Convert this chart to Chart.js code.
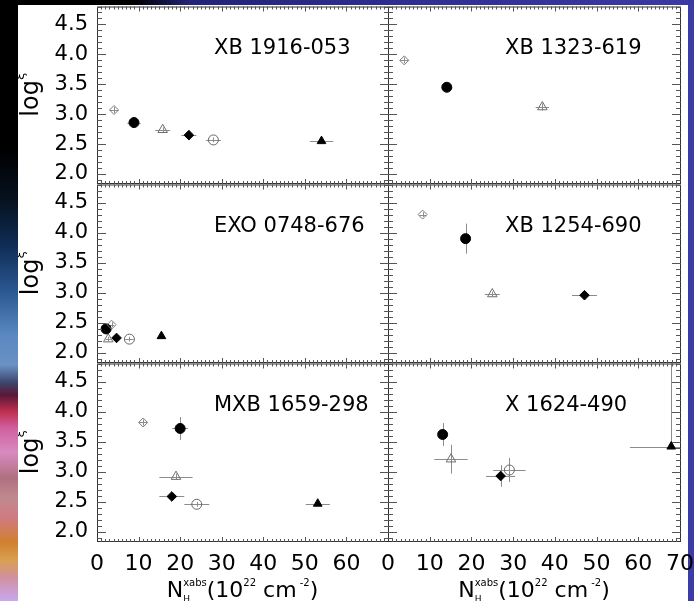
<!DOCTYPE html>
<html>
<head>
<meta charset="utf-8">
<script src="https://cdn.jsdelivr.net/npm/chart.js@4.4.0/dist/chart.umd.min.js"></script>
<style>
  html, body { margin: 0; padding: 0; }
  body { width: 694px; height: 601px; position: relative; overflow: hidden; background: #3c3ca6; }
  #topbar { position: absolute; left: 0; top: 0; width: 694px; height: 5px;
    background: linear-gradient(to right, #000 0, #000 135px, #23237a 190px, #2e2e92 400px, #3a3aa4 100%); }
  #strip { position: absolute; left: 0; top: 0; width: 18px; height: 601px;
    background: linear-gradient(to bottom, #000 0, #000 150px, #06121f 200px, #0f2c55 245px, #2a5690 290px,
      #5a88c0 335px, #6a92c4 365px, #3c4870 382px, #5a1838 395px, #c03050 412px, #d060a0 428px,
      #d88ac0 452px, #b07080 478px, #c08a90 498px, #d07a80 518px, #d08030 542px, #d8a050 560px,
      #d090a0 578px, #c8a8f0 601px); }
  #sheet { position: absolute; left: 18px; top: 5px; width: 670px; height: 596px; background: #fff; }
  canvas { position: absolute; }
</style>
</head>
<body>
<div id="topbar"></div>
<div id="strip"></div>
<div id="sheet"></div>
<canvas id="p1" width="384" height="193" style="left:18px;top:0px"></canvas>
<canvas id="p2" width="320" height="193" style="left:374px;top:0px"></canvas>
<canvas id="p3" width="384" height="194" style="left:18px;top:178px"></canvas>
<canvas id="p4" width="320" height="194" style="left:374px;top:178px"></canvas>
<canvas id="p5" width="384" height="244" style="left:18px;top:357px"></canvas>
<canvas id="p6" width="320" height="244" style="left:374px;top:357px"></canvas>
<script>
// marker kinds, same order in every panel
const markerKinds = ['openDiamond', 'filledCircle', 'openTriangle', 'filledDiamond', 'openCircle', 'filledTriangle'];
const panelNames = ['XB 1916-053', 'XB 1323-619', 'EXO 0748-676', 'XB 1254-690', 'MXB 1659-298', 'X 1624-490'];

const yTicks = [2.0, 2.5, 3.0, 3.5, 4.0, 4.5];
const xTicksLeft = [0, 10, 20, 30, 40, 50, 60];
const xTicksRight = [0, 10, 20, 30, 40, 50, 60, 70];

// N_H (10^22 cm^-2) and log xi, null = not plotted; errors are +/- or [minus, plus]
const nh1916 = [4.1, 8.9, 15.8, 22.1, 28.0, 54.0];
const xi1916 = [3.07, 2.86, 2.74, 2.65, 2.57, 2.55];
const nhErr1916 = [1.0, 1.6, 1.8, 1.8, 1.8, 2.8];
const xiErr1916 = [0.05, 0.03, 0.04, 0.03, 0.04, 0.02];

const nh1323 = [3.9, 14.1, 37.0, null, null, null];
const xi1323 = [3.90, 3.45, 3.12, null, null, null];
const nhErr1323 = [1.0, 0, 1.6, 0, 0, 0];
const xiErr1323 = [0.05, 0, 0.06, 0, 0, 0];

const nh0748 = [3.5, 2.2, 2.7, 4.7, 7.8, 15.5];
const xi0748 = [2.47, 2.40, 2.23, 2.25, 2.23, 2.28];
const nhErr0748 = [0.6, 0.5, 0.6, 0.6, 1.0, 0.6];
const xiErr0748 = [0.04, 0.03, 0.04, 0.03, 0.04, 0.03];

const nh1254 = [8.3, 18.6, 25.0, 47.1, null, null];
const xi1254 = [4.30, 3.90, 2.98, 2.96, null, null];
const nhErr1254 = [0.8, 0, 1.8, 3.0, 0, 0];
const xiErr1254 = [0.04, 0.25, 0.04, 0.03, 0, 0];

const nh1659 = [11.1, 20.0, 19.0, 18.0, 24.0, 53.1];
const xi1659 = [3.82, 3.72, 2.92, 2.59, 2.46, 2.47];
const nhErr1659 = [1.0, 1.9, 4.0, 3.0, 3.0, 2.9];
const xiErr1659 = [0.05, 0.19, 0.05, 0.03, 0.04, 0.03];

const nh1624 = [null, 13.1, 15.1, 27.0, 29.1, 67.9];
const xi1624 = [null, 3.62, 3.21, 2.93, 3.03, 3.42];
const nhErr1624 = [0, 0, 4.0, 3.5, 3.9, [9.9, 5]];
const xiErr1624 = [0, 0.19, 0.24, 0.18, 0.2, [0, 2]];

const FONT = '"DejaVu Sans", sans-serif';

const markerStyle = {
  openDiamond:    { pointStyle: 'rectRot',  radius: 4.5, fill: 'rgba(0,0,0,0)', line: '#7a7a7a' },
  filledCircle:   { pointStyle: 'circle',   radius: 5,   fill: '#000',          line: '#000' },
  openTriangle:   { pointStyle: 'triangle', radius: 5.5, fill: 'rgba(0,0,0,0)', line: '#6e6e6e' },
  filledDiamond:  { pointStyle: 'rectRot',  radius: 4.8, fill: '#000',          line: '#000' },
  openCircle:     { pointStyle: 'circle',   radius: 5,   fill: 'rgba(0,0,0,0)', line: '#666' },
  filledTriangle: { pointStyle: 'triangle', radius: 5,   fill: '#000',          line: '#000' }
};

function errPair(e) {
  if (Array.isArray(e)) return e;
  return [e || 0, e || 0];
}

// error bars under the markers
const errorBars = {
  id: 'errorBars',
  beforeDatasetsDraw(chart, args, opts) {
    const { ctx, chartArea: a, scales: { x, y } } = chart;
    ctx.save();
    ctx.beginPath();
    ctx.rect(a.left, a.top, a.right - a.left, a.bottom - a.top);
    ctx.clip();
    ctx.strokeStyle = '#8c8c8c';
    ctx.lineWidth = 1;
    opts.nh.forEach((v, i) => {
      if (v === null) return;
      const xv = opts.nh[i], yv = opts.xi[i];
      const [xl, xh] = errPair(opts.nhErr[i]);
      const [yl, yh] = errPair(opts.xiErr[i]);
      const px = x.getPixelForValue(xv), py = y.getPixelForValue(yv);
      ctx.beginPath();
      if (xl || xh) {
        ctx.moveTo(x.getPixelForValue(xv - xl), Math.round(py) + 0.5);
        ctx.lineTo(x.getPixelForValue(xv + xh), Math.round(py) + 0.5);
      }
      if (yl || yh) {
        ctx.moveTo(Math.round(px) + 0.5, y.getPixelForValue(yv - yl));
        ctx.lineTo(Math.round(px) + 0.5, y.getPixelForValue(yv + yh));
      }
      ctx.stroke();
    });
    ctx.restore();
  }
};

// box with inward tick marks on all four sides, panel name, axis titles
const frame = {
  id: 'frame',
  afterDraw(chart, args, opts) {
    const { ctx, chartArea: a, scales: { x, y } } = chart;
    ctx.save();
    ctx.strokeStyle = '#333';
    ctx.lineWidth = 1;
    ctx.strokeRect(a.left + 0.5, a.top + 0.5, a.right - a.left, a.bottom - a.top);
    ctx.strokeStyle = '#555';
    ctx.beginPath();
    for (let k = 19; k <= 48; k++) {
      const py = Math.round(y.getPixelForValue(k / 10)) + 0.5;
      const len = k % 5 === 0 ? 9 : 5;
      ctx.moveTo(a.left, py); ctx.lineTo(a.left + len, py);
      ctx.moveTo(a.right + 1, py); ctx.lineTo(a.right + 1 - len, py);
    }
    for (let k = 1; k < 70; k++) {
      const px = Math.round(x.getPixelForValue(k)) + 0.5;
      const len = k % 10 === 0 ? 5 : 3;
      ctx.moveTo(px, a.top); ctx.lineTo(px, a.top + len);
      ctx.moveTo(px, a.bottom + 1); ctx.lineTo(px, a.bottom + 1 - len);
    }
    ctx.stroke();

    ctx.fillStyle = '#000';
    ctx.textBaseline = 'alphabetic';
    ctx.textAlign = 'left';
    ctx.font = '21px ' + FONT;
    ctx.fillText(opts.name, a.left + 117, a.top + 47.5);

    if (opts.left) {
      // log xi, rotated
      ctx.save();
      ctx.translate(a.left - 59, (a.top + a.bottom) / 2);
      ctx.rotate(-Math.PI / 2);
      ctx.font = '24px ' + FONT;
      const wLog = ctx.measureText('log').width;
      ctx.font = '13px ' + FONT;
      const wXi = ctx.measureText('ξ').width;
      const start = -(wLog + wXi) / 2;
      ctx.font = '24px ' + FONT;
      ctx.fillText('log', start, 0);
      ctx.font = '13px ' + FONT;
      ctx.fillText('ξ', start + wLog, -14);
      ctx.restore();
    }

    if (opts.bottom) {
      const parts = [
        { t: 'N', s: 22, dy: 0 },
        { t: 'H', s: 9, dy: 5, keep: true },
        { t: 'xabs', s: 10, dy: -11 },
        { t: '(10', s: 22, dy: 0 },
        { t: '22', s: 10, dy: -11 },
        { t: ' cm', s: 22, dy: 0 },
        { t: ' -2', s: 10, dy: -11 },
        { t: ')', s: 22, dy: 0 }
      ];
      let total = 0;
      parts.forEach(p => {
        ctx.font = p.s + 'px ' + FONT;
        p.w = ctx.measureText(p.t).width;
        if (!p.keep) total += p.w;
      });
      let cx = (a.left + a.right) / 2 - total / 2;
      const base = a.bottom + 56;
      parts.forEach(p => {
        ctx.font = p.s + 'px ' + FONT;
        ctx.fillText(p.t, cx, base + p.dy);
        if (!p.keep) cx += p.w;
      });
    }
    ctx.restore();
  }
};

function makePanel(id, idx, nh, xi, nhErr, xiErr, left, bottom) {
  const datasets = [];
  markerKinds.forEach((kind, i) => {
    if (nh[i] === null) return;
    const m = markerStyle[kind];
    datasets.push({
      label: kind,
      data: [{ x: nh[i], y: xi[i] }],
      pointStyle: m.pointStyle,
      pointRadius: m.radius,
      pointBackgroundColor: m.fill,
      pointBorderColor: m.line,
      pointBorderWidth: 1,
      showLine: false
    });
  });

  new Chart(document.getElementById(id), {
    type: 'scatter',
    data: { datasets },
    plugins: [errorBars, frame],
    options: {
      responsive: false,
      animation: false,
      devicePixelRatio: 1,
      layout: { padding: { top: 5, bottom: bottom ? 0 : 10, left: left ? 0 : 14, right: 14 } },
      plugins: {
        legend: { display: false },
        tooltip: { enabled: false },
        errorBars: { nh, xi, nhErr, xiErr },
        frame: { name: panelNames[idx], left, bottom }
      },
      scales: {
        x: {
          type: 'linear', min: 0, max: 70, display: bottom, offset: false,
          grid: { display: false, drawTicks: false },
          border: { display: false },
          ticks: { color: '#000', font: { family: FONT, size: 22 }, padding: 10, maxRotation: 0, autoSkip: false },
          afterBuildTicks: s => { s.ticks = (left ? xTicksLeft : xTicksRight).map(v => ({ value: v })); },
          afterFit: s => {
            if (bottom) s.height = 60;
            s.paddingLeft = 0; s.paddingRight = 0;
          }
        },
        y: {
          type: 'linear', min: 1.85, max: 4.8, display: left, offset: false,
          grid: { display: false, drawTicks: false },
          border: { display: false },
          ticks: { color: '#000', font: { family: FONT, size: 21 }, padding: 9, callback: v => v.toFixed(1) },
          afterBuildTicks: s => { s.ticks = yTicks.map(v => ({ value: v })); },
          afterFit: s => {
            if (left) s.width = 79;
            s.paddingTop = 0; s.paddingBottom = 0;
          }
        }
      }
    }
  });
}

makePanel('p1', 0, nh1916, xi1916, nhErr1916, xiErr1916, true, false);
makePanel('p2', 1, nh1323, xi1323, nhErr1323, xiErr1323, false, false);
makePanel('p3', 2, nh0748, xi0748, nhErr0748, xiErr0748, true, false);
makePanel('p4', 3, nh1254, xi1254, nhErr1254, xiErr1254, false, false);
makePanel('p5', 4, nh1659, xi1659, nhErr1659, xiErr1659, true, true);
makePanel('p6', 5, nh1624, xi1624, nhErr1624, xiErr1624, false, true);
</script>
</body>
</html>
